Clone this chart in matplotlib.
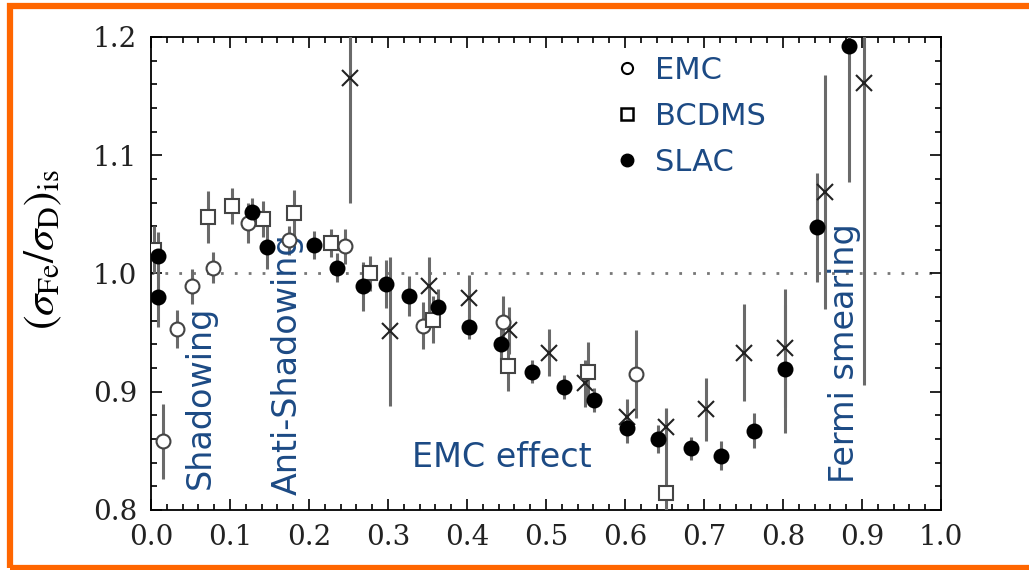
import matplotlib
matplotlib.use("Agg")
import matplotlib.pyplot as plt
from matplotlib.lines import Line2D
from matplotlib.patches import Rectangle
from matplotlib.ticker import MultipleLocator

# EMC (open circles)
emc_x = [0.015, 0.033, 0.052, 0.079, 0.123, 0.175, 0.246, 0.344, 0.445, 0.614]
emc_y = [0.858, 0.953, 0.989, 1.005, 1.043, 1.028, 1.023, 0.956, 0.959, 0.915]
emc_err = [0.032, 0.016, 0.015, 0.013, 0.017, 0.012, 0.015, 0.020, 0.022, 0.037]

# BCDMS (open squares)
bcdms_x = [0.004, 0.072, 0.102, 0.142, 0.181, 0.228, 0.277, 0.357, 0.452, 0.553, 0.652]
bcdms_y = [1.020, 1.048, 1.057, 1.046, 1.051, 1.026, 1.000, 0.961, 0.922, 0.917, 0.814]
bcdms_err = [0.020, 0.022, 0.015, 0.015, 0.020, 0.012, 0.015, 0.020, 0.021, 0.025, 0.072]

# SLAC (filled circles)
slac_x = [0.009, 0.009, 0.128, 0.147, 0.206, 0.236, 0.268, 0.297, 0.327, 0.363,
          0.402, 0.443, 0.482, 0.523, 0.561, 0.603, 0.642, 0.683, 0.722, 0.763,
          0.802, 0.843, 0.883]
slac_y = [1.015, 0.980, 1.052, 1.022, 1.024, 1.005, 0.989, 0.991, 0.981, 0.972,
          0.955, 0.940, 0.917, 0.904, 0.893, 0.869, 0.860, 0.852, 0.846, 0.867,
          0.919, 1.039, 1.192]
slac_err = [0.020, 0.025, 0.012, 0.018, 0.012, 0.012, 0.021, 0.020, 0.017, 0.015,
            0.010, 0.015, 0.010, 0.010, 0.010, 0.012, 0.012, 0.010, 0.012, 0.015,
            0.054, 0.046, 0.115]

# unlabelled set (crosses)
other_x = [0.252, 0.302, 0.352, 0.402, 0.453, 0.504, 0.550, 0.603, 0.652, 0.702,
           0.751, 0.802, 0.853, 0.902]
other_y = [1.165, 0.951, 0.989, 0.979, 0.952, 0.933, 0.907, 0.879, 0.870, 0.885,
           0.933, 0.937, 1.069, 1.161]
other_err = [0.105, 0.063, 0.025, 0.020, 0.020, 0.020, 0.020, 0.015, 0.015, 0.027,
             0.041, 0.050, 0.099, 0.255]

legend_labels = ["EMC", "BCDMS", "SLAC"]
xticks = [0.0, 0.1, 0.2, 0.3, 0.4, 0.5, 0.6, 0.7, 0.8, 0.9, 1.0]
yticks = [0.8, 0.9, 1.0, 1.1, 1.2]

blue = "#1c4a84"
ecol = "#6a6a6a"

plt.rcParams["mathtext.fontset"] = "stix"

fig = plt.figure(figsize=(10.29, 5.70), dpi=100)
ax = fig.add_axes([0.1467, 0.1053, 0.7678, 0.8298])

common = dict(ls="none", ecolor=ecol, elinewidth=2.2, capsize=0,
              markeredgewidth=1.5, zorder=3)
ax.errorbar(other_x, other_y, yerr=other_err, marker="x", color="#222222",
            markersize=11, **common)
ax.errorbar(emc_x, emc_y, yerr=emc_err, marker="o", mfc="white", mec="#444444",
            markersize=10, **common)
ax.errorbar(bcdms_x, bcdms_y, yerr=bcdms_err, marker="s", mfc="white", mec="#444444",
            markersize=10, **common)
ax.errorbar(slac_x, slac_y, yerr=slac_err, marker="o", mfc="black", mec="black",
            markersize=10, **common)

ax.axhline(1.0, color="#777777", lw=2, ls=(0, (1, 4)), zorder=1)

ax.set_xlim(0, 1.0)
ax.set_ylim(0.8, 1.2)
ax.set_xticks(xticks)
ax.set_yticks(yticks)
ax.set_xticklabels([f"{v:.1f}" for v in xticks])
ax.set_yticklabels([f"{v:.1f}" for v in yticks])
ax.xaxis.set_minor_locator(MultipleLocator(0.02))
ax.yaxis.set_minor_locator(MultipleLocator(0.02))
ax.tick_params(which="both", direction="in", top=True, right=True, width=1.2)
ax.tick_params(which="major", length=8, pad=10)
ax.tick_params(which="minor", length=4)
for lab in ax.get_xticklabels() + ax.get_yticklabels():
    lab.set_fontfamily("DejaVu Serif")
    lab.set_fontsize(20)
    lab.set_color("#222222")
for sp in ax.spines.values():
    sp.set_linewidth(1.3)

ax.set_ylabel(r"$\left(\sigma_{\rm Fe}/\sigma_{\rm D}\right)_{\rm is}$", fontsize=31)
ax.yaxis.set_label_coords(-0.11, 0.55)

# region annotations
txt = dict(color=blue, fontsize=24, family="DejaVu Sans", ha="center", va="center")
ax.text(0.062, 0.895, "Shadowing", rotation=90, **txt)
ax.text(0.173, 0.923, "Anti-Shadowing", rotation=90, **txt)
ax.text(0.444, 0.844, "EMC effect", **txt)
ax.text(0.878, 0.933, "Fermi smearing", rotation=90, **txt)

handles = [
    Line2D([], [], ls="none", marker="o", mfc="white", mec="black", markersize=8, mew=1.5),
    Line2D([], [], ls="none", marker="s", mfc="white", mec="black", markersize=8, mew=1.8),
    Line2D([], [], ls="none", marker="o", mfc="black", mec="black", markersize=9),
]
ax.legend(handles, legend_labels, loc="upper left", bbox_to_anchor=(0.56, 1.005),
          frameon=False, labelcolor=blue, prop={"family": "DejaVu Sans", "size": 22},
          handlelength=0.8, handletextpad=0.5, labelspacing=0.55, borderaxespad=0.3)

# orange frame around the figure
fig.patches.append(Rectangle((10 / 1029, 2 / 570), 1.1, 562 / 570,
                             transform=fig.transFigure, fill=False,
                             edgecolor="#ff6600", linewidth=4.5, zorder=10))

fig.savefig("out.png", dpi=100)
